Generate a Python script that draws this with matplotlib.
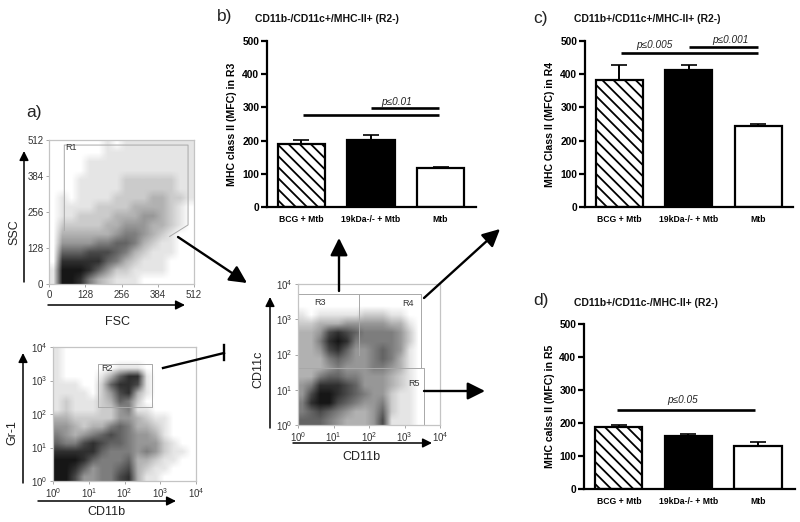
import numpy as np
import matplotlib
matplotlib.use("Agg")
import matplotlib.pyplot as plt
from matplotlib.colors import LinearSegmentedColormap

plt.rcParams['font.family'] = ['Liberation Sans', 'DejaVu Sans']
plt.rcParams['mathtext.default'] = 'regular'
plt.rcParams['hatch.linewidth'] = 1.3

W, H = 800, 522

# ---- bar data ----
categories = ['BCG + Mtb', '19kDa-/- + Mtb', 'Mtb']
b_means = [190, 202, 118]
b_errs = [12, 15, 2]
c_means = [383, 413, 244]
c_errs = [44, 15, 6]
d_means = [187, 160, 130]
d_errs = [8, 6, 12]
yticks_bar = [0, 100, 200, 300, 400, 500]

# ---- flow cytometry: darkness of each plot area, read by eye per grid cell (0 empty .. 9 black), top row first ----
fsc_ssc_density = [
    [0,0,0,0,0,0,1,0,1,1,1,1,1,1,1,1],
    [0,0,0,0,0,0,1,1,1,1,1,1,1,1,1,1],
    [0,0,0,0,1,1,1,1,1,1,1,1,1,1,1,1],
    [0,0,0,0,1,1,1,1,1,1,1,1,1,1,1,1],
    [0,0,0,1,1,1,1,1,2,2,2,2,2,2,1,1],
    [0,0,0,1,1,1,1,1,2,2,2,2,2,2,1,1],
    [0,1,0,1,1,1,1,2,2,2,2,3,3,2,2,1],
    [0,1,1,1,1,2,2,2,2,3,3,3,3,2,1,0],
    [0,1,1,2,2,2,2,3,3,3,4,4,3,2,1,0],
    [0,2,2,2,2,2,3,3,4,4,4,3,3,2,1,0],
    [0,3,3,3,3,3,3,4,5,5,4,3,2,1,0,0],
    [0,4,4,4,4,5,5,6,6,5,3,2,1,1,0,0],
    [0,6,6,6,7,7,7,6,5,3,2,1,1,1,0,0],
    [0,8,8,8,8,8,6,5,3,2,1,1,1,0,0,0],
    [1,9,9,9,8,6,4,2,2,1,1,1,1,0,0,0],
    [1,9,9,8,5,3,2,1,1,1,0,0,0,0,0,0],
]
cd11b_gr1_density = [
    [1,0,0,0,0,0,0,0,0,0,0,0,0,0,0,0],
    [1,0,0,0,0,0,0,0,0,0,0,0,0,0,0,0],
    [1,0,0,0,0,0,0,1,1,1,0,0,0,0,0,0],
    [1,0,0,0,0,1,3,6,8,8,1,0,0,0,0,0],
    [1,1,1,0,0,2,6,8,8,7,1,0,0,0,0,0],
    [1,1,1,1,0,2,4,7,8,3,1,0,0,0,0,0],
    [1,2,1,1,1,2,3,6,5,2,0,0,0,0,0,0],
    [1,2,1,1,1,2,2,4,5,1,1,0,0,0,0,0],
    [3,3,2,2,2,2,2,4,4,3,2,1,1,0,0,0],
    [4,4,3,2,3,3,5,6,5,3,3,2,1,0,0,0],
    [5,4,3,4,5,6,7,6,5,4,4,3,1,0,0,0],
    [6,5,5,7,8,7,6,6,5,4,4,4,2,1,0,0],
    [8,8,8,8,8,6,5,5,5,4,5,4,2,1,1,0],
    [9,9,9,8,6,5,5,5,6,3,3,2,1,1,0,0],
    [9,9,8,6,4,5,5,6,7,3,2,1,1,0,0,0],
    [9,9,7,4,4,5,5,7,8,3,1,1,0,0,0,0],
]
cd11b_cd11c_density = [
    [0,0,0,0,0,0,0,0,0,0,0,0,0,0,0,0],
    [0,0,0,0,0,0,0,0,0,0,0,0,0,0,0,0],
    [0,0,0,0,0,0,0,0,0,0,0,0,0,0,0,0],
    [1,0,1,1,1,1,1,2,2,2,1,1,0,0,0,0],
    [2,2,3,3,3,4,4,4,4,4,3,3,1,0,0,0],
    [3,3,4,7,8,7,6,5,5,5,5,4,2,0,0,0],
    [3,3,5,8,9,8,5,5,5,5,5,4,2,0,0,0],
    [3,3,4,7,8,6,4,4,5,6,5,4,1,0,0,0],
    [3,3,3,5,6,5,4,4,5,6,5,3,1,0,0,0],
    [3,3,3,4,5,4,4,4,5,5,4,3,1,0,0,0],
    [3,3,5,6,6,5,5,4,4,4,3,2,1,0,0,0],
    [4,5,8,8,8,7,6,4,4,4,3,2,1,0,0,0],
    [4,7,9,9,8,7,6,5,4,4,2,1,1,0,0,0],
    [5,8,9,9,7,6,5,4,4,5,2,1,1,0,0,0],
    [5,6,7,6,5,4,3,3,4,6,2,1,1,0,0,0],
    [6,6,6,5,4,3,3,3,4,7,1,1,1,0,0,0],
]
lin_ticks = [0, 128, 256, 384, 512]
log_ticks = [0, 1, 2, 3, 4]
log_labels = ['10$^{0}$', '10$^{1}$', '10$^{2}$', '10$^{3}$', '10$^{4}$']

r1_x = [54, 54, 491, 491, 426]
r1_y = [190, 494, 494, 210, 169]

cmap = LinearSegmentedColormap.from_list('dots', ['#ffffff', '#161616'])

fig = plt.figure(figsize=(W / 100, H / 100), dpi=100, facecolor='white')


def axes_px(x0, y0, x1, y1):
    return fig.add_axes([x0 / W, 1 - y1 / H, (x1 - x0) / W, (y1 - y0) / H])


def bar_panel(box, means, errs, ylabel, xlim, lab_x):
    ax = axes_px(*box)
    x = np.arange(len(means))
    ax.errorbar(x, means, yerr=[[0] * 3, errs], fmt='none', ecolor='black',
                elinewidth=1.4, capsize=5.5, capthick=1.2, zorder=1)
    fills = ['white', 'black', 'white']
    hatches = ['\\\\\\', None, None]
    for xi, m, f, h in zip(x, means, fills, hatches):
        ax.bar(xi, m, width=0.68, facecolor=f, edgecolor='black', linewidth=1.6,
               hatch=h, zorder=2)
    ax.set_xlim(*xlim)
    ax.set_ylim(0, 500)
    ax.set_yticks(yticks_bar)
    ax.set_xticks(x)
    ax.set_xticklabels(categories, fontsize=6.2, fontweight='bold')
    ax.tick_params(axis='x', length=0, pad=6)
    ax.tick_params(axis='y', length=4, width=1.6, pad=1.5, labelsize=7.4)
    for t in ax.get_yticklabels():
        t.set_fontweight('bold')
    for s in ['top', 'right']:
        ax.spines[s].set_visible(False)
    for s in ['left', 'bottom']:
        ax.spines[s].set_linewidth(1.6)
    ax.set_ylabel(ylabel, fontsize=7.6, fontweight='bold')
    ax.yaxis.set_label_coords(lab_x, 0.5)
    ax.patch.set_alpha(0)
    return ax


def sig(ax, x0, x1, y):
    ax.plot([x0, x1], [y, y], color='black', lw=1.9, solid_capstyle='butt',
            clip_on=False, zorder=3)


def ptext(ax, x, y, s):
    ax.text(x, y, s, style='italic', fontsize=7.2, ha='center', va='center',
            color='#222222', clip_on=False)


axb = bar_panel((267, 41, 476, 207), b_means, b_errs, 'MHC class II (MFC) in R3', (-0.496, 2.51), -0.143)
sig(axb, 1.0, 1.98, 298)
sig(axb, 0.02, 1.98, 277)
ptext(axb, 1.37, 316, 'p≤0.01')

axc = bar_panel((585, 41, 793, 207), c_means, c_errs, 'MHC Class II (MFC) in R4', (-0.496, 2.5), -0.144)
sig(axc, 1.0, 1.99, 482)
sig(axc, 0.02, 1.99, 464)
ptext(axc, 0.5, 488, 'p≤0.005')
ptext(axc, 1.6, 503, 'p≤0.001')

axd = bar_panel((584, 324, 795, 489), d_means, d_errs, 'MHC calss II (MFC) in R5', (-0.5, 2.53), -0.137)
sig(axd, -0.02, 1.95, 239)
ptext(axd, 0.91, 270, 'p≤0.05')


def flow_panel(box, density, limit):
    ax = axes_px(*box)
    ax.imshow(np.array(density), cmap=cmap, vmin=0, vmax=9, aspect='auto',
              extent=(0, limit, 0, limit), interpolation='bilinear', origin='upper')
    ax.set_xlim(0, limit)
    ax.set_ylim(0, limit)
    for s in ax.spines.values():
        s.set_color('#c4c4c4')
        s.set_linewidth(0.9)
    ax.tick_params(length=2, width=0.6, color='#999999', labelsize=7, labelcolor='#333333', pad=2)
    return ax


GATE = dict(color='#a8a8a8', lw=0.7)

ax1 = flow_panel((49, 140, 194, 284), fsc_ssc_density, 512)
ax1.set_xticks(lin_ticks)
ax1.set_yticks(lin_ticks)
ax1.plot(r1_x, r1_y, **GATE)
ax1.text(77, 485, 'R1', fontsize=6.5, ha='center', va='center', color='#333333')

ax2 = flow_panel((53, 347, 196, 481), cd11b_gr1_density, 4)
ax2.set_xticks(log_ticks, log_labels)
ax2.set_yticks(log_ticks, log_labels)
ax2.plot([1.26, 1.26, 2.78, 2.78, 1.26], [2.2, 3.5, 3.5, 2.2, 2.2], **GATE)
ax2.text(1.5, 3.35, 'R2', fontsize=6.5, ha='center', va='center', color='#333333')

ax3 = flow_panel((298, 284, 440, 425), cd11b_cd11c_density, 4)
ax3.set_xticks(log_ticks, log_labels)
ax3.set_yticks(log_ticks, log_labels)
ax3.plot([0, 3.455, 3.455], [3.72, 3.72, 1.63], **GATE)
ax3.plot([1.72, 1.72], [3.72, 2.0], **GATE)
ax3.plot([0, 3.55, 3.55, 0], [1.63, 1.63, 0.01, 0.01], **GATE)
ax3.text(0.63, 3.48, 'R3', fontsize=6.5, ha='center', va='center', color='#333333')
ax3.text(3.09, 3.46, 'R4', fontsize=6.5, ha='center', va='center', color='#333333')
ax3.text(3.28, 1.19, 'R5', fontsize=6.5, ha='center', va='center', color='#333333')

# ---- overlay in image pixels for labels and arrows ----
ov = fig.add_axes([0, 0, 1, 1], zorder=10)
ov.set_xlim(0, W)
ov.set_ylim(H, 0)
ov.axis('off')


def arrow(p0, p1, lw, size):
    ov.annotate('', xy=p1, xytext=p0,
                arrowprops=dict(arrowstyle=f'-|>,head_length={size},head_width={size * 0.5}',
                                color='black', lw=lw, shrinkA=0, shrinkB=0))


thin = (1.1, 0.55)
big = (1.7, 1.05)
arrow((24, 282), (24, 151), *thin)
arrow((48, 305), (185, 305), *thin)
arrow((23, 483), (23, 353), *thin)
arrow((38, 501), (176, 501), *thin)
arrow((270, 428), (270, 297), *thin)
arrow((293, 443), (432, 443), *thin)
arrow((178, 237), (247, 283), *big)
arrow((339, 291), (339, 238), *big)
arrow((424, 298), (500, 229), *big)
arrow((424, 391), (485, 391), *big)
ov.plot([163, 224], [368, 353], color='black', lw=1.7)
ov.plot([224, 224], [345, 360], color='black', lw=1.7)

for x, y, s, rot in [(14, 232, 'SSC', 90), (117, 322, 'FSC', 0), (12, 433, 'Gr-1', 90),
                     (106, 512, 'CD11b', 0), (258, 369, 'CD11c', 90), (361, 457, 'CD11b', 0)]:
    ov.text(x, y, s, fontsize=9, rotation=rot, ha='center', va='center', color='#222222')

for x, y, s in [(34, 113, 'a)'), (225, 17, 'b)'), (541, 18, 'c)'), (541, 300, 'd)')]:
    ov.text(x, y, s, fontsize=12.5, ha='center', va='center', color='#222222')

for x, y, s in [(327, 19, 'CD11b-/CD11c+/MHC-II+ (R2-)'),
                (647, 19, 'CD11b+/CD11c+/MHC-II+ (R2-)'),
                (646, 303, 'CD11b+/CD11c-/MHC-II+ (R2-)')]:
    ov.text(x, y, s, fontsize=7.5, fontweight='bold', ha='center', va='center', color='#111111')

fig.savefig('out.png', dpi=100)
